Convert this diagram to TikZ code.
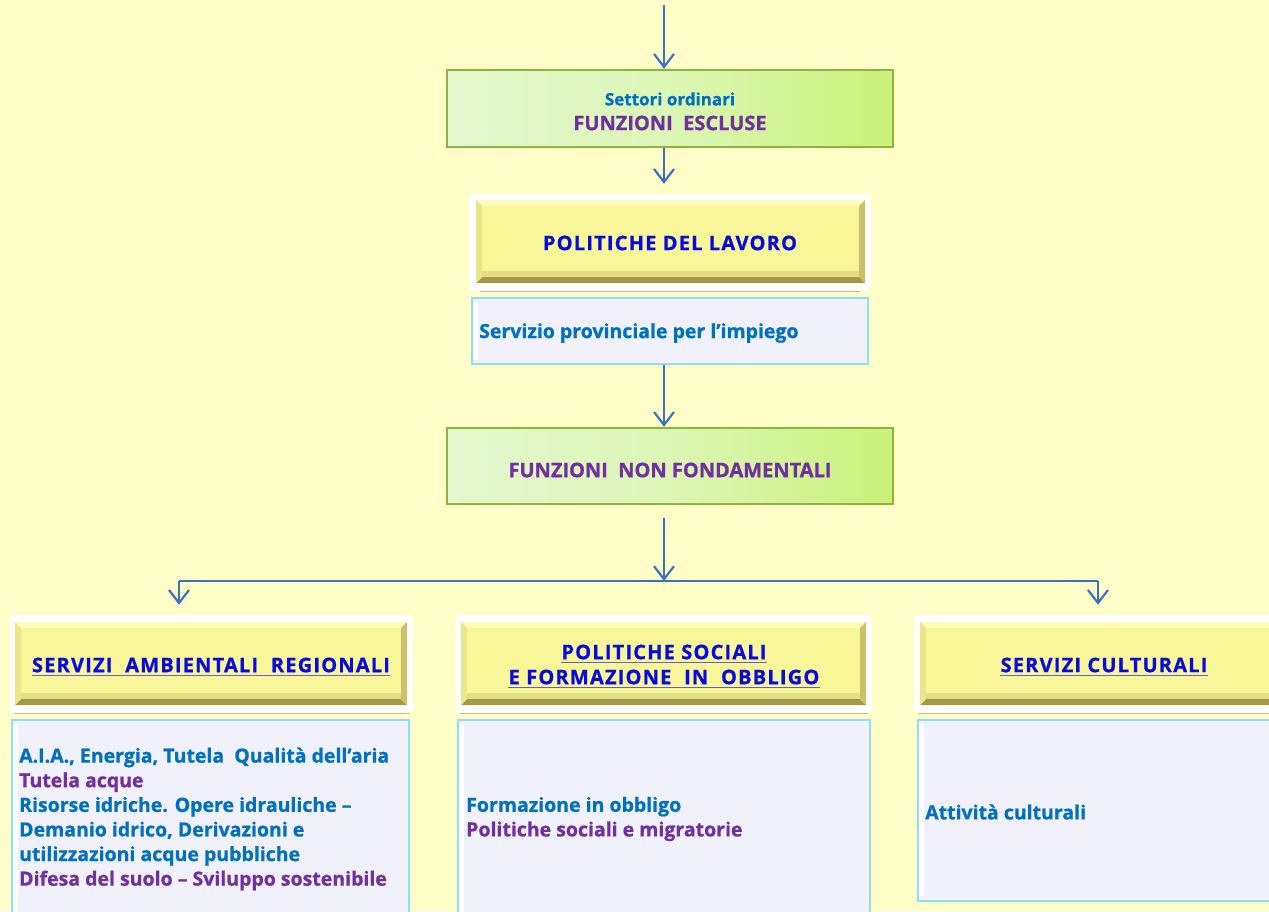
\documentclass[tikz,border=0pt]{standalone}
\usepackage{fontspec}
\setmainfont{Open Sans}[BoldFeatures={FakeBold=0.9}]
\newfontfamily\headfont{Open Sans}[LetterSpace=6, BoldFeatures={FakeBold=0.9}]
\usetikzlibrary{arrows.meta}
\definecolor{bg}{HTML}{FFFDC8}
\definecolor{arrowblue}{HTML}{3A72C0}
\definecolor{txtblue}{HTML}{0070C0}
\definecolor{txtpurple}{HTML}{7030A0}
\definecolor{headblue}{HTML}{0A0ADC}
\definecolor{ulcol}{HTML}{6A5AD8}
\definecolor{greenedge}{HTML}{8DB43C}
\definecolor{greenL}{HTML}{E4F7CE}
\definecolor{greenR}{HTML}{C9F27A}
\definecolor{yel}{HTML}{F7F698}
\definecolor{beveltop}{HTML}{FDFCB8}
\definecolor{bevelleft}{HTML}{E9E78A}
\definecolor{bevelright}{HTML}{C9C26A}
\definecolor{bevelbot}{HTML}{A29A48}
\definecolor{cyanedge}{HTML}{8CE2F4}
\definecolor{bodyfill}{HTML}{F1F1FC}
\definecolor{rulegray}{HTML}{BDBDBD}

\tikzset{
  arr/.style={draw=arrowblue, line width=2.2pt, -{Straight Barb[length=13pt,width=20pt,line width=2.2pt]}},
  link/.style={draw=arrowblue, line width=2.2pt},
  greenbox/.style={draw=greenedge, line width=2.5pt, left color=greenL, right color=greenR, middle color=greenL!70!greenR},
  frame/.style={fill=white, rounded corners=4pt},
  yelbox/.style={fill=yel, path picture={
      \fill[beveltop] (path picture bounding box.north west) -- (path picture bounding box.north east)
        -- ([xshift=-6pt,yshift=-6pt]path picture bounding box.north east) -- ([xshift=6pt,yshift=-6pt]path picture bounding box.north west) -- cycle;
      \fill[bevelbot] (path picture bounding box.south west) -- (path picture bounding box.south east)
        -- ([xshift=-6pt,yshift=6pt]path picture bounding box.south east) -- ([xshift=6pt,yshift=6pt]path picture bounding box.south west) -- cycle;
      \fill[bevelleft] (path picture bounding box.north west) -- ([xshift=6pt,yshift=-6pt]path picture bounding box.north west)
        -- ([xshift=6pt,yshift=6pt]path picture bounding box.south west) -- (path picture bounding box.south west) -- cycle;
      \fill[bevelright] (path picture bounding box.north east) -- ([xshift=-6pt,yshift=-6pt]path picture bounding box.north east)
        -- ([xshift=-6pt,yshift=6pt]path picture bounding box.south east) -- (path picture bounding box.south east) -- cycle;
      \fill[bevelbot, opacity=0.25] ([xshift=6pt,yshift=6pt]path picture bounding box.south west) rectangle ([xshift=-6pt,yshift=12pt]path picture bounding box.south east);
    }},
  bodybox/.style={fill=bodyfill, draw=cyanedge, line width=2.5pt, path picture={
      \fill[white] ([xshift=1pt,yshift=-4pt]path picture bounding box.north west) rectangle ([xshift=6pt,yshift=4pt]path picture bounding box.south west);
    }},
  headtxt/.style={font=\headfont\bfseries\fontsize{20}{25}\selectfont, text=headblue, inner sep=0pt},
  bodytxt/.style={font=\bfseries\fontsize{19.5}{24.6}\selectfont, align=left, inner sep=0pt},
  greentxt/.style={font=\bfseries\fontsize{20}{24}\selectfont, inner sep=0pt},
  underl/.style={draw=ulcol, line width=0.9pt}
}

\begin{document}
\begin{tikzpicture}[x=1pt,y=-1pt]
\useasboundingbox (0,0) rectangle (1269,911);
\clip (0,0) rectangle (1269,911);
\fill[bg] (0,0) rectangle (1269,911);

% ---------- top chain ----------
\coordinate (entry) at (664,5);
\node[greenbox, minimum width=446pt, minimum height=77pt] (excl) at (670,108.5) {};
\node[greentxt, font=\bfseries\fontsize{17}{20}\selectfont, text=txtblue] (excltxtA) at (670,99) {Settori ordinari};
\node[greentxt, text=txtpurple] (excltxtB) at (670,123) {FUNZIONI\ \ ESCLUSE};

\node[frame, minimum width=402pt, minimum height=96pt] (lavframe) at (670,242) {};
\node[yelbox, minimum width=389pt, minimum height=83pt] (lav) at (670.5,241.5) {};
\node[headtxt] (lavtxt) at (670,243) {POLITICHE DEL LAVORO};
\draw[rulegray, line width=1pt] (480,291) -- (860,291);

\node[bodybox, minimum width=396pt, minimum height=66pt] (impiego) at (670,331) {};
\node[bodytxt, text=txtblue, anchor=west] (impiegotxt) at (479,333) {Servizio provinciale per l’impiego};

\node[greenbox, minimum width=446pt, minimum height=76pt] (nonfond) at (670,466) {};
\node[greentxt, text=txtpurple] (nonfondtxt) at (670,470) {FUNZIONI\ \ NON FONDAMENTALI};

% ---------- bottom row ----------
\node[frame, minimum width=403pt, minimum height=97pt] (ambframe) at (211.5,663.5) {};
\node[yelbox, minimum width=392pt, minimum height=83pt] (amb) at (211,663.5) {};
\node[headtxt] (ambtxt) at (211,665) {SERVIZI\ \ AMBIENTALI\ \ REGIONALI};
\draw[underl] ([yshift=-3pt]ambtxt.base west) -- ([yshift=-3pt]ambtxt.base east);
\draw[rulegray, line width=1pt] (14,713) -- (410,713);

\node[frame, minimum width=416pt, minimum height=97pt] (socframe) at (664,663.5) {};
\node[yelbox, minimum width=405pt, minimum height=83pt] (soc) at (663.5,663.5) {};
\node[headtxt] (soctxtA) at (664,652) {POLITICHE SOCIALI};
\node[headtxt] (soctxtB) at (664,677) {E FORMAZIONE\ \ IN\ \ OBBLIGO};
\draw[underl] ([yshift=-3pt]soctxtA.base west) -- ([yshift=-3pt]soctxtA.base east);
\draw[underl] ([yshift=-3pt]soctxtB.base west) -- ([yshift=-3pt]soctxtB.base east);
\draw[rulegray, line width=1pt] (460,713) -- (868,713);

\node[frame, minimum width=371pt, minimum height=97pt] (culframe) at (1099.5,663.5) {};
\node[yelbox, minimum width=368pt, minimum height=83pt] (cul) at (1104,663.5) {};
\node[headtxt] (cultxt) at (1104,665) {SERVIZI CULTURALI};
\draw[underl] ([yshift=-3pt]cultxt.base west) -- ([yshift=-3pt]cultxt.base east);
\draw[rulegray, line width=1pt] (918,713) -- (1269,713);

\node[bodybox, minimum width=397pt, minimum height=205pt] (ambbody) at (210.5,822.5) {};
\node[bodytxt, anchor=west] (ambbodytxt) at (19,819) {%
  \textcolor{txtblue}{A.I.A., Energia, Tutela\ \ Qualità dell’aria}\\
  \textcolor{txtpurple}{Tutela acque}\\
  \textcolor{txtblue}{Risorse idriche. Opere idrauliche –}\\
  \textcolor{txtblue}{Demanio idrico, Derivazioni e}\\
  \textcolor{txtblue}{utilizzazioni acque pubbliche}\\
  \textcolor{txtpurple}{Difesa del suolo – Sviluppo sostenibile}};

\node[bodybox, minimum width=412pt, minimum height=205pt] (socbody) at (664,822.5) {};
\node[bodytxt, anchor=west] (socbodytxt) at (466,819) {%
  \textcolor{txtblue}{Formazione in obbligo}\\
  \textcolor{txtpurple}{Politiche sociali e migratorie}};

\node[bodybox, minimum width=372pt, minimum height=181pt] (culbody) at (1104,810.5) {};
\node[bodytxt, text=txtblue, anchor=west] (culbodytxt) at (925,812) {Attività culturali};

% ---------- connectors ----------
\draw[arr] (entry) -- ([xshift=-6pt]excl.north);
\draw[arr, shorten >=10pt] ([xshift=-6pt]excl.south) -- ([xshift=-6pt]lavframe.north);
\draw[arr] ([xshift=-6pt]impiego.south) -- ([xshift=-6pt]nonfond.north);
\coordinate (split) at (664,581);
\coordinate (splitL) at (179,581);
\coordinate (splitR) at (1098,581);
\draw[arr, shorten <=13pt] ([xshift=-6pt]nonfond.south) -- (split);
\draw[link] (splitL) -- (splitR);
\draw[arr, shorten >=10pt] (splitL) -- (splitL |- ambframe.north);
\draw[arr, shorten >=10pt] (splitR) -- (splitR |- culframe.north);
\end{tikzpicture}
\end{document}
